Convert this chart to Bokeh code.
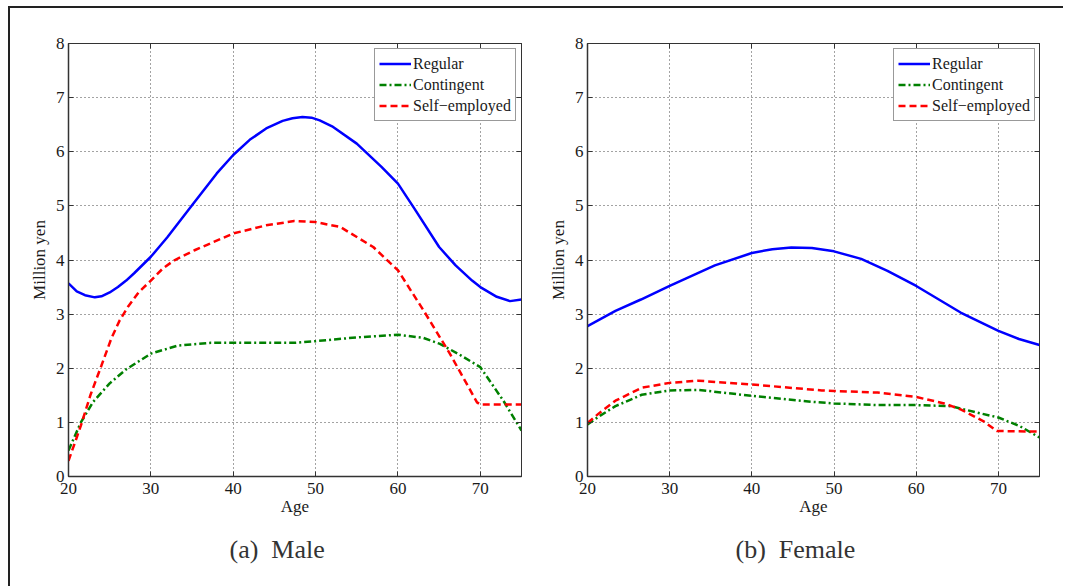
from bokeh.plotting import figure
from bokeh.layouts import row
from bokeh.models import Range1d, FixedTicker, LinearAxis, Legend, LegendItem, Title
from bokeh.embed import file_html
from bokeh.resources import INLINE

FONT = "Liberation Serif"

# ---------------- data ----------------
male_reg_age = [20, 21, 22, 23.2, 24, 25, 26, 27, 28, 30, 32, 35, 38, 40, 42, 44, 46, 47.2, 48.4, 49.5, 50.5, 52, 55, 58, 60, 62, 65, 67, 69, 70, 72, 73.6, 75]
male_reg_val = [3.57, 3.42, 3.35, 3.31, 3.33, 3.40, 3.50, 3.62, 3.76, 4.06, 4.42, 5.01, 5.60, 5.94, 6.22, 6.43, 6.57, 6.62, 6.64, 6.63, 6.58, 6.47, 6.15, 5.72, 5.41, 4.95, 4.24, 3.90, 3.62, 3.50, 3.32, 3.24, 3.27]

male_con_age = [20, 21.5, 23, 25, 27, 30, 33.3, 37.3, 40, 47.4, 50, 55, 60, 63.1, 65.1, 67.5, 70, 72.8, 75]
male_con_val = [0.48, 1.00, 1.38, 1.72, 1.98, 2.27, 2.42, 2.47, 2.47, 2.47, 2.50, 2.57, 2.62, 2.56, 2.45, 2.25, 2.02, 1.40, 0.85]

male_self_age = [20, 21, 21.5, 22.7, 24, 25.2, 26.2, 27.2, 28.5, 30, 31.5, 32.8, 35.3, 40, 44, 47.4, 50, 53, 57, 60, 63.1, 66.3, 69.6, 70, 75]
male_self_val = [0.29, 0.72, 0.94, 1.52, 2.05, 2.55, 2.88, 3.13, 3.40, 3.62, 3.85, 3.99, 4.18, 4.49, 4.64, 4.72, 4.70, 4.61, 4.24, 3.81, 3.07, 2.27, 1.37, 1.33, 1.33]

fem_reg_age = [20, 23.4, 26.5, 30, 35.5, 40, 42.5, 44.8, 47.3, 50, 53.3, 56.5, 60, 65.4, 70, 72.5, 75]
fem_reg_val = [2.78, 3.06, 3.27, 3.52, 3.90, 4.13, 4.20, 4.23, 4.22, 4.16, 4.02, 3.80, 3.52, 3.03, 2.69, 2.54, 2.43]

fem_con_age = [20, 21.5, 23.4, 26.6, 30, 33.5, 40, 47.3, 50, 55.3, 60, 64.2, 67.4, 70, 72.6, 75]
fem_con_val = [0.96, 1.12, 1.30, 1.51, 1.59, 1.60, 1.49, 1.38, 1.35, 1.32, 1.32, 1.30, 1.18, 1.09, 0.93, 0.72]

fem_self_age = [20, 21.5, 23.4, 26.6, 30, 33.5, 40, 48.5, 50, 55.3, 60, 63.4, 65.4, 68.2, 69.8, 75]
fem_self_val = [0.99, 1.18, 1.40, 1.64, 1.73, 1.77, 1.70, 1.59, 1.58, 1.55, 1.47, 1.35, 1.24, 1.02, 0.84, 0.83]

x_ticks = [20, 30, 40, 50, 60, 70]
y_ticks = [0, 1, 2, 3, 4, 5, 6, 7, 8]
series_names = ["Regular", "Contingent", "Self\u2212employed"]
captions = ["(a)\u00a0\u00a0Male", "(b)\u00a0\u00a0Female"]


def make_panel(reg, con, selfe, caption, width, border_left, border_right, cap_offset):
    p = figure(width=width, height=578, output_backend="svg", toolbar_location=None,
               x_range=Range1d(20, 75), y_range=Range1d(0, 8),
               min_border_left=border_left, min_border_right=border_right,
               min_border_top=35, min_border_bottom=110)
    p.xaxis.ticker = FixedTicker(ticks=x_ticks)
    p.yaxis.ticker = FixedTicker(ticks=y_ticks)
    for ax in (p.xaxis[0], p.yaxis[0]):
        ax.major_label_text_font = FONT
        ax.major_label_text_font_size = "17px"
        ax.major_label_text_color = "#1a1a1a"
        ax.axis_label_text_font = FONT
        ax.axis_label_text_font_size = "17px"
        ax.axis_label_text_font_style = "normal"
        ax.axis_label_text_color = "#1a1a1a"
        ax.major_tick_in = 5
        ax.major_tick_out = 0
        ax.minor_tick_line_color = None
        ax.axis_line_color = "#333333"
        ax.axis_line_width = 1.5
        ax.major_tick_line_color = "#333333"
    p.xaxis.axis_label = "Age"
    p.yaxis.axis_label = "Million yen"
    p.xaxis.major_label_standoff = 6
    p.xaxis.axis_label_standoff = 0
    p.yaxis.major_label_standoff = 4
    p.yaxis.axis_label_standoff = 4

    # top/right axes with inward ticks, no labels
    for loc, tick in (("right", y_ticks), ("above", x_ticks)):
        ax = LinearAxis(ticker=FixedTicker(ticks=tick), major_label_text_font_size="0px",
                        major_tick_in=5, major_tick_out=0, minor_tick_line_color=None,
                        axis_line_color="#333333", major_tick_line_color="#333333")
        ax.major_label_overrides = {t: "" for t in tick}
        p.add_layout(ax, loc)

    p.grid.grid_line_dash = "1 3"
    p.grid.grid_line_color = "#333333"
    p.grid.grid_line_alpha = 0.9
    p.outline_line_color = "#333333"
    p.background_fill_color = "white"
    p.border_fill_color = "white"

    r1 = p.line(reg[0], reg[1], line_color="#0000ff", line_width=2.5)
    r2 = p.line(con[0], con[1], line_color="#008000", line_width=2.5, line_dash="7 3 2 3")
    r3 = p.line(selfe[0], selfe[1], line_color="#ff0000", line_width=2.5, line_dash="7 4")

    legend = Legend(items=[LegendItem(label=series_names[0], renderers=[r1]),
                           LegendItem(label=series_names[1], renderers=[r2]),
                           LegendItem(label=series_names[2], renderers=[r3])],
                    location=(306, 355), padding=4, spacing=0, margin=0,
                    glyph_width=32, glyph_height=21, label_height=21, label_standoff=2,
                    label_text_font=FONT, label_text_font_size="16px", label_text_color="#1a1a1a",
                    border_line_color="#333333", border_line_width=1.2,
                    background_fill_color="white", background_fill_alpha=1.0)
    p.add_layout(legend, "center")

    t = Title(text=caption, align="left", text_font=FONT, text_font_size="26px",
              text_font_style="normal", text_color="#333333", standoff=28, offset=cap_offset)
    p.add_layout(t, "below")
    return p


p1 = make_panel((male_reg_age, male_reg_val), (male_con_age, male_con_val),
                (male_self_age, male_self_val), captions[0], 535, 58, 24, 161)
p2 = make_panel((fem_reg_age, fem_reg_val), (fem_con_age, fem_con_val),
                (fem_self_age, fem_self_val), captions[1], 518, 41, 24, 148)

layout = row(p1, p2, styles={"margin-left": "8px", "margin-top": "6px",
                             "border-top": "2px solid #222222",
                             "border-left": "2px solid #222222"})

open("out.html", "w").write(file_html(layout, INLINE))
